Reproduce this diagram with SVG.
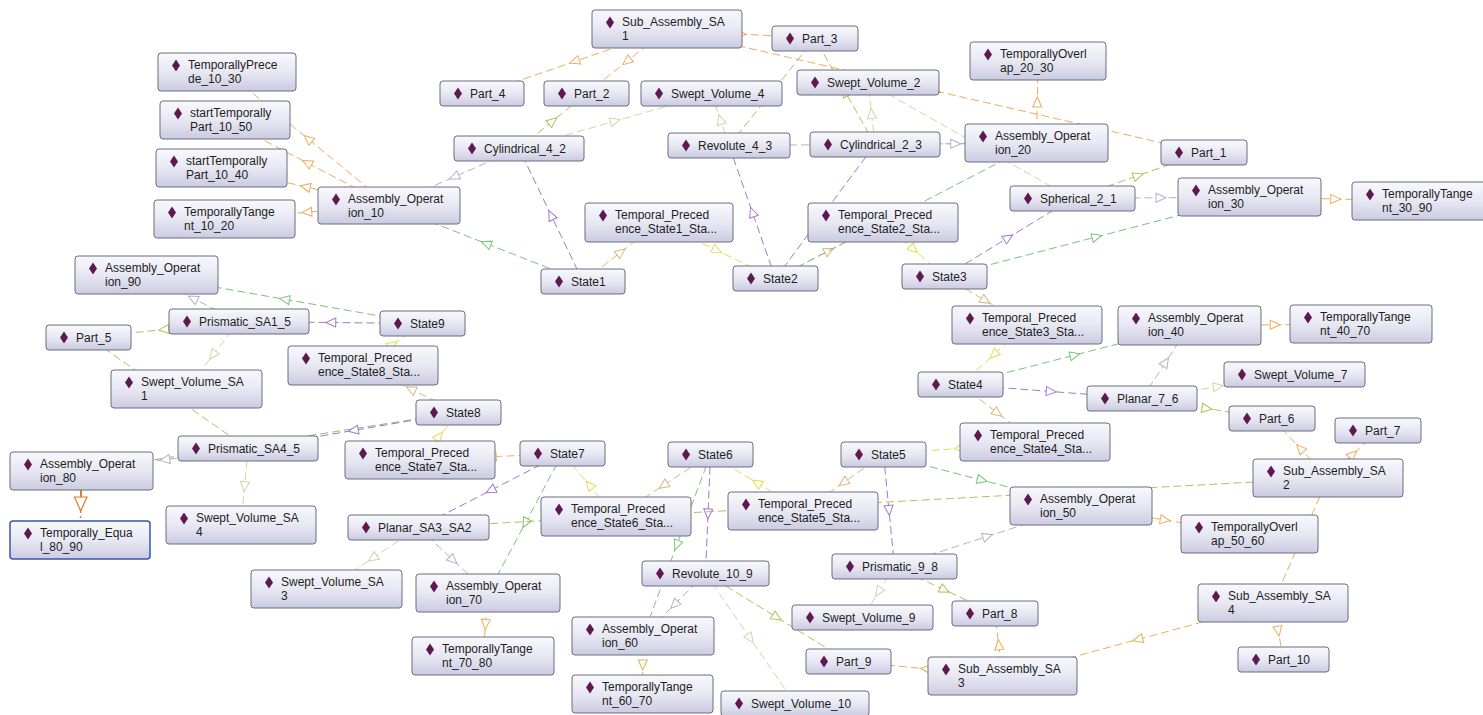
<svg xmlns="http://www.w3.org/2000/svg" width="1483" height="715" viewBox="0 0 1483 715">
<style>
.n rect{fill:url(#ng);stroke:#6c6c7e;stroke-width:1}
.n path{fill:#5c1a50}
.n text{font-family:"Liberation Sans",Arial,sans-serif;font-size:12px;fill:#1e1e1e}
.e{fill:none;stroke-width:1;stroke-dasharray:8 4}
.o{stroke:#eeac58;marker-mid:url(#mo)}
.t{stroke:#dcb67e;marker-mid:url(#mt)}
.y{stroke:#e6dc4c;marker-mid:url(#my)}
.g{stroke:#78c478;marker-mid:url(#mg)}
.p{stroke:#a676cf;marker-mid:url(#mp)}
.j{stroke:#b2b2ca;marker-mid:url(#mj)}
.k{stroke:#bcbc5c;marker-mid:url(#mk)}
.v{stroke:#d4d4a4;marker-mid:url(#mv)}
</style>
<defs>
<linearGradient id="ng" x1="0" y1="0" x2="0" y2="1">
<stop offset="0" stop-color="#f8f8fd"/>
<stop offset="0.5" stop-color="#e8e8f3"/>
<stop offset="1" stop-color="#cbcbe2"/>
</linearGradient>
<marker id="mo" markerWidth="14" markerHeight="12" refX="6" refY="6" orient="auto" markerUnits="userSpaceOnUse"><path d="M1,1.5 L11,6 L1,10.5 Z" fill="#fff" stroke="#eeac58"/></marker>
<marker id="mt" markerWidth="14" markerHeight="12" refX="6" refY="6" orient="auto" markerUnits="userSpaceOnUse"><path d="M1,1.5 L11,6 L1,10.5 Z" fill="#fff" stroke="#dcb67e"/></marker>
<marker id="my" markerWidth="14" markerHeight="12" refX="6" refY="6" orient="auto" markerUnits="userSpaceOnUse"><path d="M1,1.5 L11,6 L1,10.5 Z" fill="#fff" stroke="#e6dc4c"/></marker>
<marker id="mg" markerWidth="14" markerHeight="12" refX="6" refY="6" orient="auto" markerUnits="userSpaceOnUse"><path d="M1,1.5 L11,6 L1,10.5 Z" fill="#fff" stroke="#78c478"/></marker>
<marker id="mp" markerWidth="14" markerHeight="12" refX="6" refY="6" orient="auto" markerUnits="userSpaceOnUse"><path d="M1,1.5 L11,6 L1,10.5 Z" fill="#fff" stroke="#a676cf"/></marker>
<marker id="mj" markerWidth="14" markerHeight="12" refX="6" refY="6" orient="auto" markerUnits="userSpaceOnUse"><path d="M1,1.5 L11,6 L1,10.5 Z" fill="#fff" stroke="#b2b2ca"/></marker>
<marker id="mk" markerWidth="14" markerHeight="12" refX="6" refY="6" orient="auto" markerUnits="userSpaceOnUse"><path d="M1,1.5 L11,6 L1,10.5 Z" fill="#fff" stroke="#bcbc5c"/></marker>
<marker id="mv" markerWidth="14" markerHeight="12" refX="6" refY="6" orient="auto" markerUnits="userSpaceOnUse"><path d="M1,1.5 L11,6 L1,10.5 Z" fill="#fff" stroke="#d4d4a4"/></marker>
</defs>
<rect width="1483" height="715" fill="#fff"/>
<g id="edges">
<path class="e o" d="M389,205.5 L308,138.75 L227,72"/>
<path class="e o" d="M389,205.5 L307,162.75 L225,120"/>
<path class="e o" d="M389,205.5 L305.25,186.75 L221.5,168"/>
<path class="e o" d="M389,205.5 L306.75,212.25 L224.5,219"/>
<path class="e o" d="M667,29.5 L574.5,61.5 L482,93.5"/>
<path class="e o" d="M667,29.5 L626.75,61.5 L586.5,93.5"/>
<path class="e o" d="M667,29.5 L741,34 L815,38.5"/>
<path class="e o" d="M667,29.5 L935.5,91 L1204,152.5"/>
<path class="e o" d="M1036.5,143 L1037.25,102 L1038,61"/>
<path class="e o" d="M1249.5,197 L1335.75,199 L1422,201"/>
<path class="e o" d="M1189.5,325.5 L1275.25,324.75 L1361,324"/>
<path class="e o" d="M1081,506 L1165.25,520 L1249.5,534"/>
<path class="e o" d="M643,636 L642.75,665 L642.5,694"/>
<path class="e o" d="M488,593 L485.5,624.5 L483,656"/>
<path class="e o" d="M1328,478 L1300,448.25 L1272,418.5"/>
<path class="e o" d="M1328,478 L1353,454.25 L1378,430.5"/>
<path class="e o" d="M1273,603 L1300.5,540.5 L1328,478"/>
<path class="e o" d="M1273,603 L1137.75,639.5 L1002.5,676"/>
<path class="e o" d="M1273,603 L1278.25,631.25 L1283.5,659.5"/>
<path class="e o" d="M1002.5,676 L998.75,644.75 L995,613.5"/>
<path class="e o" d="M1002.5,676 L925.5,668.75 L848.5,661.5"/>
<path class="e t" d="M583,281.5 L621,252 L659,222.5"/>
<path class="e t" d="M775.5,278.5 L829.25,250.5 L883,222.5"/>
<path class="e t" d="M944.5,276.5 L985.75,300.75 L1027,325"/>
<path class="e t" d="M960.5,384.5 L997.75,413.25 L1035,442"/>
<path class="e t" d="M883.5,454.5 L843.25,482.75 L803,511"/>
<path class="e t" d="M710.5,454.5 L663.25,485.5 L616,516.5"/>
<path class="e t" d="M562.5,453.5 L491.25,456.75 L420,460"/>
<path class="e t" d="M458.5,412.5 L410.75,389 L363,365.5"/>
<path class="e y" d="M659,222.5 L717.25,250.5 L775.5,278.5"/>
<path class="e y" d="M883,222.5 L913.75,249.5 L944.5,276.5"/>
<path class="e y" d="M1027,325 L993.75,354.75 L960.5,384.5"/>
<path class="e y" d="M1035,442 L959.25,448.25 L883.5,454.5"/>
<path class="e y" d="M803,511 L756.75,482.75 L710.5,454.5"/>
<path class="e y" d="M616,516.5 L589.25,485 L562.5,453.5"/>
<path class="e y" d="M420,460 L439.25,436.25 L458.5,412.5"/>
<path class="e y" d="M363,365.5 L392.75,344.5 L422.5,323.5"/>
<path class="e g" d="M583,281.5 L486,243.5 L389,205.5"/>
<path class="e g" d="M775.5,278.5 L906,210.75 L1036.5,143"/>
<path class="e g" d="M944.5,276.5 L1097,236.75 L1249.5,197"/>
<path class="e g" d="M960.5,384.5 L1075,355 L1189.5,325.5"/>
<path class="e g" d="M883.5,454.5 L982.25,480.25 L1081,506"/>
<path class="e g" d="M710.5,454.5 L676.75,545.25 L643,636"/>
<path class="e g" d="M562.5,453.5 L525.25,523.25 L488,593"/>
<path class="e g" d="M458.5,412.5 L270,441.75 L81.5,471"/>
<path class="e g" d="M422.5,323.5 L284.5,299.25 L146.5,275"/>
<path class="e p" d="M583,281.5 L551,215 L519,148.5"/>
<path class="e p" d="M775.5,278.5 L752.25,212 L729,145.5"/>
<path class="e p" d="M775.5,278.5 L825.25,211.5 L875,144.5"/>
<path class="e p" d="M944.5,276.5 L1008.5,237.5 L1072.5,198.5"/>
<path class="e p" d="M960.5,384.5 L1051.25,391.5 L1142,398.5"/>
<path class="e p" d="M883.5,454.5 L889,510.5 L894.5,566.5"/>
<path class="e p" d="M710.5,454.5 L708,514 L705.5,573.5"/>
<path class="e p" d="M562.5,453.5 L490.5,490.5 L418.5,527.5"/>
<path class="e p" d="M458.5,412.5 L353.25,430.5 L248,448.5"/>
<path class="e p" d="M422.5,323.5 L330.75,322.5 L239,321.5"/>
<path class="e j" d="M519,148.5 L454,177 L389,205.5"/>
<path class="e j" d="M729,145.5 L882.75,144.25 L1036.5,143"/>
<path class="e j" d="M875,144.5 L955.75,143.75 L1036.5,143"/>
<path class="e j" d="M1072.5,198.5 L1161,197.75 L1249.5,197"/>
<path class="e j" d="M1142,398.5 L1165.75,362 L1189.5,325.5"/>
<path class="e j" d="M894.5,566.5 L987.75,536.25 L1081,506"/>
<path class="e j" d="M705.5,573.5 L674.25,604.75 L643,636"/>
<path class="e j" d="M418.5,527.5 L453.25,560.25 L488,593"/>
<path class="e j" d="M248,448.5 L164.75,459.75 L81.5,471"/>
<path class="e j" d="M239,321.5 L192.75,298.25 L146.5,275"/>
<path class="e k" d="M519,148.5 L552.75,121 L586.5,93.5"/>
<path class="e k" d="M729,145.5 L772,92 L815,38.5"/>
<path class="e k" d="M875,144.5 L845,91.5 L815,38.5"/>
<path class="e k" d="M1072.5,198.5 L1138.25,175.5 L1204,152.5"/>
<path class="e k" d="M1142,398.5 L1207,408.5 L1272,418.5"/>
<path class="e k" d="M894.5,566.5 L944.75,590 L995,613.5"/>
<path class="e k" d="M705.5,573.5 L777,617.5 L848.5,661.5"/>
<path class="e k" d="M418.5,527.5 L873.25,502.75 L1328,478"/>
<path class="e k" d="M239,321.5 L163.75,329.5 L88.5,337.5"/>
<path class="e k" d="M248,448.5 L168.25,393 L88.5,337.5"/>
<path class="e v" d="M519,148.5 L615.25,121 L711.5,93.5"/>
<path class="e v" d="M729,145.5 L720.25,119.5 L711.5,93.5"/>
<path class="e v" d="M875,144.5 L871.5,113.5 L868,82.5"/>
<path class="e v" d="M1072.5,198.5 L970.25,140.5 L868,82.5"/>
<path class="e v" d="M1142,398.5 L1218.25,386.5 L1294.5,374.5"/>
<path class="e v" d="M894.5,566.5 L878.5,592 L862.5,617.5"/>
<path class="e v" d="M705.5,573.5 L750.25,638.5 L795,703.5"/>
<path class="e v" d="M418.5,527.5 L372.5,558.25 L326.5,589"/>
<path class="e v" d="M239,321.5 L212.75,355.25 L186.5,389"/>
<path class="e v" d="M248,448.5 L244.5,486.75 L241,525"/>
<path d="M81,490 L81,497" stroke="#e8782a" stroke-width="2" fill="none"/>
<path d="M74.5,497 L87,497 L80.7,511 Z" fill="#fff" stroke="#e8782a" stroke-width="1.2"/>
<path d="M80.7,511 L80.5,521" stroke="#e8782a" stroke-width="1.5" stroke-dasharray="2 3" fill="none"/>
</g>
<g id="sa1" class="n" transform="translate(592,10)"><rect width="150" height="38" rx="3"/><path d="M18 6.5l4 6-4 6-4-6z"/><text x="30" y="16">Sub_Assembly_SA</text><text x="30" y="30">1</text></g>
<g id="part3" class="n" transform="translate(772,26)"><rect width="86" height="25" rx="3"/><path d="M18 6.5l4 6-4 6-4-6z"/><text x="30" y="17">Part_3</text></g>
<g id="to2030" class="n" transform="translate(970,42)"><rect width="136" height="38" rx="3"/><path d="M18 6.5l4 6-4 6-4-6z"/><text x="30" y="16">TemporallyOverl</text><text x="30" y="30">ap_20_30</text></g>
<g id="tp1030" class="n" transform="translate(158,53)"><rect width="138" height="38" rx="3"/><path d="M18 6.5l4 6-4 6-4-6z"/><text x="30" y="16">TemporallyPrece</text><text x="30" y="30">de_10_30</text></g>
<g id="part4" class="n" transform="translate(440,81)"><rect width="84" height="25" rx="3"/><path d="M18 6.5l4 6-4 6-4-6z"/><text x="30" y="17">Part_4</text></g>
<g id="part2" class="n" transform="translate(544,81)"><rect width="85" height="25" rx="3"/><path d="M18 6.5l4 6-4 6-4-6z"/><text x="30" y="17">Part_2</text></g>
<g id="sv4" class="n" transform="translate(641,81)"><rect width="141" height="25" rx="3"/><path d="M18 6.5l4 6-4 6-4-6z"/><text x="30" y="17">Swept_Volume_4</text></g>
<g id="sv2" class="n" transform="translate(797,70)"><rect width="142" height="25" rx="3"/><path d="M18 6.5l4 6-4 6-4-6z"/><text x="30" y="17">Swept_Volume_2</text></g>
<g id="stp1050" class="n" transform="translate(160,101)"><rect width="130" height="38" rx="3"/><path d="M18 6.5l4 6-4 6-4-6z"/><text x="30" y="16">startTemporally</text><text x="30" y="30">Part_10_50</text></g>
<g id="cyl42" class="n" transform="translate(454,136)"><rect width="130" height="25" rx="3"/><path d="M18 6.5l4 6-4 6-4-6z"/><text x="30" y="17">Cylindrical_4_2</text></g>
<g id="rev43" class="n" transform="translate(668,133)"><rect width="122" height="25" rx="3"/><path d="M18 6.5l4 6-4 6-4-6z"/><text x="30" y="17">Revolute_4_3</text></g>
<g id="cyl23" class="n" transform="translate(810,132)"><rect width="130" height="25" rx="3"/><path d="M18 6.5l4 6-4 6-4-6z"/><text x="30" y="17">Cylindrical_2_3</text></g>
<g id="ao20" class="n" transform="translate(965,124)"><rect width="143" height="38" rx="3"/><path d="M18 6.5l4 6-4 6-4-6z"/><text x="30" y="16">Assembly_Operat</text><text x="30" y="30">ion_20</text></g>
<g id="part1" class="n" transform="translate(1161,140)"><rect width="86" height="25" rx="3"/><path d="M18 6.5l4 6-4 6-4-6z"/><text x="30" y="17">Part_1</text></g>
<g id="stp1040" class="n" transform="translate(156,149)"><rect width="131" height="38" rx="3"/><path d="M18 6.5l4 6-4 6-4-6z"/><text x="30" y="16">startTemporally</text><text x="30" y="30">Part_10_40</text></g>
<g id="sph21" class="n" transform="translate(1010,186)"><rect width="125" height="25" rx="3"/><path d="M18 6.5l4 6-4 6-4-6z"/><text x="30" y="17">Spherical_2_1</text></g>
<g id="ao30" class="n" transform="translate(1178,178)"><rect width="143" height="38" rx="3"/><path d="M18 6.5l4 6-4 6-4-6z"/><text x="30" y="16">Assembly_Operat</text><text x="30" y="30">ion_30</text></g>
<g id="tt3090" class="n" transform="translate(1352,182)"><rect width="140" height="38" rx="3"/><path d="M18 6.5l4 6-4 6-4-6z"/><text x="30" y="16">TemporallyTange</text><text x="30" y="30">nt_30_90</text></g>
<g id="ao10" class="n" transform="translate(318,187)"><rect width="142" height="37" rx="3"/><path d="M18 6.5l4 6-4 6-4-6z"/><text x="30" y="16">Assembly_Operat</text><text x="30" y="30">ion_10</text></g>
<g id="tt1020" class="n" transform="translate(154,200)"><rect width="141" height="38" rx="3"/><path d="M18 6.5l4 6-4 6-4-6z"/><text x="30" y="16">TemporallyTange</text><text x="30" y="30">nt_10_20</text></g>
<g id="tps1" class="n" transform="translate(585,203)"><rect width="148" height="39" rx="3"/><path d="M18 6.5l4 6-4 6-4-6z"/><text x="30" y="16">Temporal_Preced</text><text x="30" y="30">ence_State1_Sta...</text></g>
<g id="tps2" class="n" transform="translate(808,203)"><rect width="150" height="39" rx="3"/><path d="M18 6.5l4 6-4 6-4-6z"/><text x="30" y="16">Temporal_Preced</text><text x="30" y="30">ence_State2_Sta...</text></g>
<g id="state1" class="n" transform="translate(541,269)"><rect width="84" height="25" rx="3"/><path d="M18 6.5l4 6-4 6-4-6z"/><text x="30" y="17">State1</text></g>
<g id="state2" class="n" transform="translate(733,266)"><rect width="85" height="25" rx="3"/><path d="M18 6.5l4 6-4 6-4-6z"/><text x="30" y="17">State2</text></g>
<g id="state3" class="n" transform="translate(902,264)"><rect width="85" height="25" rx="3"/><path d="M18 6.5l4 6-4 6-4-6z"/><text x="30" y="17">State3</text></g>
<g id="ao90" class="n" transform="translate(75,256)"><rect width="143" height="38" rx="3"/><path d="M18 6.5l4 6-4 6-4-6z"/><text x="30" y="16">Assembly_Operat</text><text x="30" y="30">ion_90</text></g>
<g id="prsa15" class="n" transform="translate(169,309)"><rect width="140" height="25" rx="3"/><path d="M18 6.5l4 6-4 6-4-6z"/><text x="30" y="17">Prismatic_SA1_5</text></g>
<g id="state9" class="n" transform="translate(380,311)"><rect width="85" height="25" rx="3"/><path d="M18 6.5l4 6-4 6-4-6z"/><text x="30" y="17">State9</text></g>
<g id="part5" class="n" transform="translate(46,325)"><rect width="85" height="25" rx="3"/><path d="M18 6.5l4 6-4 6-4-6z"/><text x="30" y="17">Part_5</text></g>
<g id="tps8" class="n" transform="translate(288,346)"><rect width="150" height="39" rx="3"/><path d="M18 6.5l4 6-4 6-4-6z"/><text x="30" y="16">Temporal_Preced</text><text x="30" y="30">ence_State8_Sta...</text></g>
<g id="svsa1" class="n" transform="translate(111,370)"><rect width="151" height="38" rx="3"/><path d="M18 6.5l4 6-4 6-4-6z"/><text x="30" y="16">Swept_Volume_SA</text><text x="30" y="30">1</text></g>
<g id="tps3" class="n" transform="translate(952,306)"><rect width="150" height="38" rx="3"/><path d="M18 6.5l4 6-4 6-4-6z"/><text x="30" y="16">Temporal_Preced</text><text x="30" y="30">ence_State3_Sta...</text></g>
<g id="ao40" class="n" transform="translate(1118,306)"><rect width="143" height="39" rx="3"/><path d="M18 6.5l4 6-4 6-4-6z"/><text x="30" y="16">Assembly_Operat</text><text x="30" y="30">ion_40</text></g>
<g id="tt4070" class="n" transform="translate(1290,305)"><rect width="142" height="38" rx="3"/><path d="M18 6.5l4 6-4 6-4-6z"/><text x="30" y="16">TemporallyTange</text><text x="30" y="30">nt_40_70</text></g>
<g id="state4" class="n" transform="translate(918,372)"><rect width="85" height="25" rx="3"/><path d="M18 6.5l4 6-4 6-4-6z"/><text x="30" y="17">State4</text></g>
<g id="sv7" class="n" transform="translate(1224,362)"><rect width="141" height="25" rx="3"/><path d="M18 6.5l4 6-4 6-4-6z"/><text x="30" y="17">Swept_Volume_7</text></g>
<g id="planar76" class="n" transform="translate(1087,386)"><rect width="110" height="25" rx="3"/><path d="M18 6.5l4 6-4 6-4-6z"/><text x="30" y="17">Planar_7_6</text></g>
<g id="part6" class="n" transform="translate(1229,406)"><rect width="86" height="25" rx="3"/><path d="M18 6.5l4 6-4 6-4-6z"/><text x="30" y="17">Part_6</text></g>
<g id="part7" class="n" transform="translate(1335,418)"><rect width="86" height="25" rx="3"/><path d="M18 6.5l4 6-4 6-4-6z"/><text x="30" y="17">Part_7</text></g>
<g id="state8" class="n" transform="translate(416,400)"><rect width="85" height="25" rx="3"/><path d="M18 6.5l4 6-4 6-4-6z"/><text x="30" y="17">State8</text></g>
<g id="tps4" class="n" transform="translate(960,423)"><rect width="150" height="38" rx="3"/><path d="M18 6.5l4 6-4 6-4-6z"/><text x="30" y="16">Temporal_Preced</text><text x="30" y="30">ence_State4_Sta...</text></g>
<g id="prsa45" class="n" transform="translate(178,436)"><rect width="140" height="25" rx="3"/><path d="M18 6.5l4 6-4 6-4-6z"/><text x="30" y="17">Prismatic_SA4_5</text></g>
<g id="ao80" class="n" transform="translate(10,452)"><rect width="143" height="38" rx="3"/><path d="M18 6.5l4 6-4 6-4-6z"/><text x="30" y="16">Assembly_Operat</text><text x="30" y="30">ion_80</text></g>
<g id="tps7" class="n" transform="translate(345,441)"><rect width="150" height="38" rx="3"/><path d="M18 6.5l4 6-4 6-4-6z"/><text x="30" y="16">Temporal_Preced</text><text x="30" y="30">ence_State7_Sta...</text></g>
<g id="state7" class="n" transform="translate(520,441)"><rect width="85" height="25" rx="3"/><path d="M18 6.5l4 6-4 6-4-6z"/><text x="30" y="17">State7</text></g>
<g id="state6" class="n" transform="translate(668,442)"><rect width="85" height="25" rx="3"/><path d="M18 6.5l4 6-4 6-4-6z"/><text x="30" y="17">State6</text></g>
<g id="state5" class="n" transform="translate(841,442)"><rect width="85" height="25" rx="3"/><path d="M18 6.5l4 6-4 6-4-6z"/><text x="30" y="17">State5</text></g>
<g id="sa2" class="n" transform="translate(1253,459)"><rect width="150" height="38" rx="3"/><path d="M18 6.5l4 6-4 6-4-6z"/><text x="30" y="16">Sub_Assembly_SA</text><text x="30" y="30">2</text></g>
<g id="ao50" class="n" transform="translate(1010,487)"><rect width="142" height="38" rx="3"/><path d="M18 6.5l4 6-4 6-4-6z"/><text x="30" y="16">Assembly_Operat</text><text x="30" y="30">ion_50</text></g>
<g id="tps6" class="n" transform="translate(541,497)"><rect width="150" height="39" rx="3"/><path d="M18 6.5l4 6-4 6-4-6z"/><text x="30" y="16">Temporal_Preced</text><text x="30" y="30">ence_State6_Sta...</text></g>
<g id="tps5" class="n" transform="translate(728,492)"><rect width="150" height="38" rx="3"/><path d="M18 6.5l4 6-4 6-4-6z"/><text x="30" y="16">Temporal_Preced</text><text x="30" y="30">ence_State5_Sta...</text></g>
<g id="planarsa" class="n" transform="translate(348,515)"><rect width="141" height="25" rx="3"/><path d="M18 6.5l4 6-4 6-4-6z"/><text x="30" y="17">Planar_SA3_SA2</text></g>
<g id="to5060" class="n" transform="translate(1181,515)"><rect width="137" height="38" rx="3"/><path d="M18 6.5l4 6-4 6-4-6z"/><text x="30" y="16">TemporallyOverl</text><text x="30" y="30">ap_50_60</text></g>
<g id="svsa4" class="n" transform="translate(166,506)"><rect width="150" height="38" rx="3"/><path d="M18 6.5l4 6-4 6-4-6z"/><text x="30" y="16">Swept_Volume_SA</text><text x="30" y="30">4</text></g>
<g id="te8090" class="n" transform="translate(10,521)"><rect width="140" height="38" rx="3" style="stroke:#3a56a8;stroke-width:1.5"/><path d="M18 6.5l4 6-4 6-4-6z"/><text x="30" y="16">Temporally_Equa</text><text x="30" y="30">l_80_90</text></g>
<g id="rev109" class="n" transform="translate(642,561)"><rect width="127" height="25" rx="3"/><path d="M18 6.5l4 6-4 6-4-6z"/><text x="30" y="17">Revolute_10_9</text></g>
<g id="pr98" class="n" transform="translate(832,554)"><rect width="125" height="25" rx="3"/><path d="M18 6.5l4 6-4 6-4-6z"/><text x="30" y="17">Prismatic_9_8</text></g>
<g id="svsa3" class="n" transform="translate(251,570)"><rect width="151" height="38" rx="3"/><path d="M18 6.5l4 6-4 6-4-6z"/><text x="30" y="16">Swept_Volume_SA</text><text x="30" y="30">3</text></g>
<g id="ao70" class="n" transform="translate(416,574)"><rect width="144" height="38" rx="3"/><path d="M18 6.5l4 6-4 6-4-6z"/><text x="30" y="16">Assembly_Operat</text><text x="30" y="30">ion_70</text></g>
<g id="sa4" class="n" transform="translate(1198,584)"><rect width="150" height="38" rx="3"/><path d="M18 6.5l4 6-4 6-4-6z"/><text x="30" y="16">Sub_Assembly_SA</text><text x="30" y="30">4</text></g>
<g id="sv9" class="n" transform="translate(792,605)"><rect width="141" height="25" rx="3"/><path d="M18 6.5l4 6-4 6-4-6z"/><text x="30" y="17">Swept_Volume_9</text></g>
<g id="part8" class="n" transform="translate(952,601)"><rect width="86" height="25" rx="3"/><path d="M18 6.5l4 6-4 6-4-6z"/><text x="30" y="17">Part_8</text></g>
<g id="ao60" class="n" transform="translate(572,617)"><rect width="142" height="38" rx="3"/><path d="M18 6.5l4 6-4 6-4-6z"/><text x="30" y="16">Assembly_Operat</text><text x="30" y="30">ion_60</text></g>
<g id="tt7080" class="n" transform="translate(412,637)"><rect width="142" height="38" rx="3"/><path d="M18 6.5l4 6-4 6-4-6z"/><text x="30" y="16">TemporallyTange</text><text x="30" y="30">nt_70_80</text></g>
<g id="part9" class="n" transform="translate(806,649)"><rect width="85" height="25" rx="3"/><path d="M18 6.5l4 6-4 6-4-6z"/><text x="30" y="17">Part_9</text></g>
<g id="sa3" class="n" transform="translate(928,657)"><rect width="149" height="38" rx="3"/><path d="M18 6.5l4 6-4 6-4-6z"/><text x="30" y="16">Sub_Assembly_SA</text><text x="30" y="30">3</text></g>
<g id="part10" class="n" transform="translate(1238,647)"><rect width="91" height="25" rx="3"/><path d="M18 6.5l4 6-4 6-4-6z"/><text x="30" y="17">Part_10</text></g>
<g id="tt6070" class="n" transform="translate(572,675)"><rect width="141" height="38" rx="3"/><path d="M18 6.5l4 6-4 6-4-6z"/><text x="30" y="16">TemporallyTange</text><text x="30" y="30">nt_60_70</text></g>
<g id="sv10" class="n" transform="translate(721,691)"><rect width="148" height="25" rx="3"/><path d="M18 6.5l4 6-4 6-4-6z"/><text x="30" y="17">Swept_Volume_10</text></g>
</svg>
